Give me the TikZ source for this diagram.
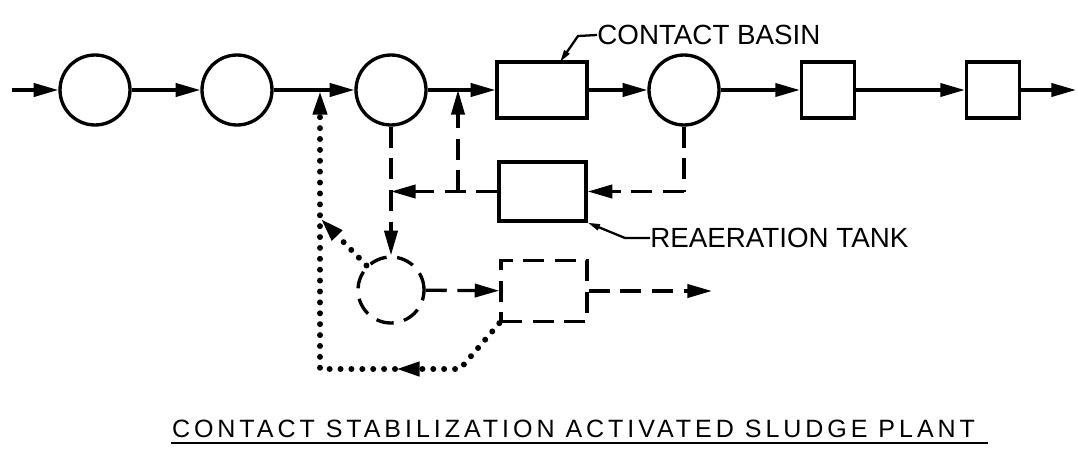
\documentclass[tikz,border=0pt]{standalone}
\usepackage{fontspec}
\setmainfont{Liberation Sans}
\usetikzlibrary{arrows.meta}
\tikzset{
    unit/.style={circle, draw, line width=1.9pt, minimum size=1.4cm, inner sep=0pt},
    tank/.style={rectangle, draw, line width=1.9pt, inner sep=0pt},
    arr/.style={-{Triangle[length=14pt, width=7.5pt]}},
    flow/.style={line width=1.9pt, arr},
    pipe/.style={line width=1.9pt},
    sludge/.style={line width=1.9pt, dash pattern=on 12pt off 6pt},
    waste/.style={line width=3.4pt, line cap=round, dash pattern=on 0pt off 6.2pt},
    leader/.style={line width=1.3pt, {Triangle[length=7pt, width=3.5pt]}-},
    tag/.style={font=\fontsize{15.8}{18}\selectfont, inner sep=0pt, anchor=west}
}

\begin{document}
\begin{tikzpicture}[x=0.02cm, y=-0.02cm]
    \useasboundingbox (0,0) rectangle (1078,466);

    % Main line
    \node[unit] (c1) at (95,90) {};
    \node[unit] (c2) at (237,90) {};
    \node[unit] (c3) at (391,90) {};
    \node[tank, minimum width=1.8cm, minimum height=1.12cm] (basin) at (542,90) {};
    \node[unit] (c4) at (684,90) {};
    \node[tank, minimum width=1.06cm, minimum height=1.12cm] (b5) at (828,90) {};
    \node[tank, minimum width=1.06cm, minimum height=1.12cm] (b6) at (993,90) {};

    \coordinate (in) at (12,90);
    \coordinate (out) at (1076,90);
    \coordinate (j1) at (320,90);
    \coordinate (j2) at (458,90);

    \draw[flow] (in) -- (c1);
    \draw[flow] (c1) -- (c2);
    \draw[pipe] (c2) -- (j1);
    \draw[flow] (j1) -- (c3);
    \draw[pipe] (c3) -- (j2);
    \draw[flow] (j2) -- (basin);
    \draw[flow] (basin) -- (c4);
    \draw[flow] (c4) -- (b5);
    \draw[flow] (b5) -- (b6);
    \draw[flow] (b6) -- (out);

    % Reaeration loop
    \node[tank, minimum width=1.74cm, minimum height=1.18cm] (reaer) at (542.5,191.5) {};
    \coordinate (r1) at (684,191.5);
    \coordinate (k1) at (458,191.5);
    \coordinate (k2) at (391,191.5);

    \draw[sludge] (c4) -- (r1);
    \draw[sludge, arr] (r1) -- (reaer);
    \draw[sludge, arr] (reaer) -- (k2);
    \draw[sludge, arr] (k1) -- (j2);

    % Stabilization (dashed)
    \node[unit, minimum size=1.32cm, dash pattern=on 10pt off 6pt] (dcirc) at (391,290) {};
    \node[tank, minimum width=1.72cm, minimum height=1.22cm, dash pattern=on 12pt off 6pt] (dbox) at (544,291) {};
    \coordinate (d1) at (712,291);

    \draw[sludge, arr] (c3) -- (dcirc);
    \draw[sludge, arr] (dcirc) -- (dbox);
    \draw[sludge, arr] (dbox) -- (d1);

    % Return (dotted)
    \coordinate (w1) at (460,369);
    \coordinate (w2) at (320,369);
    \coordinate (w3) at (395,369);
    \coordinate (w5) at (320,218);

    \draw[waste, arr] (dbox.south west) -- (w1) -- (w3);
    \draw[waste, arr] (w3) -- (w2) -- (j1);
    \draw[waste, arr] (dcirc.135) -- (w5);

    % Labels
    \coordinate (bl0) at (560,62);
    \coordinate (bl1) at (578,36);
    \node[tag] (basinlbl) at (597,35) {CONTACT BASIN};
    \draw[leader] (bl0) -- (bl1) -- (basinlbl.west);

    \coordinate (rl1) at (625,238);
    \node[tag] (reaerlbl) at (650,238) {REAERATION TANK};
    \draw[leader] (reaer.south east) -- (rl1) -- (reaerlbl.west);

    \node[inner sep=0pt, font=\fontsize{14.25}{16}\selectfont\addfontfeature{LetterSpace=15.8}] (title) at (573.5,429)
        {CONTACT STABILIZATION ACTIVATED SLUDGE PLANT};
    \coordinate (u1) at (171,443);
    \coordinate (u2) at (988,443);
    \draw[line width=1.4pt] (u1) -- (u2);

\end{tikzpicture}
\end{document}
